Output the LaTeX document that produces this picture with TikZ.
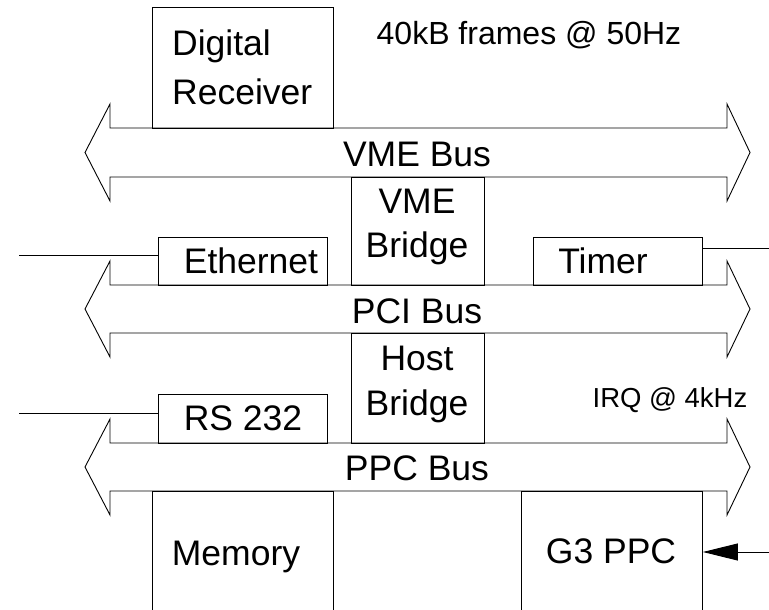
\documentclass[tikz,border=0pt]{standalone}
\usepackage{fontspec}
\setmainfont{Liberation Sans}
\usetikzlibrary{arrows.meta}
\tikzset{
  box/.style={draw, line width=0.9pt, inner sep=0pt, anchor=north west},
  lbl/.style={inner sep=0pt, anchor=base, font=\fontsize{35.5}{40}\selectfont},
  lblw/.style={lbl, anchor=base west},
  note/.style={inner sep=0pt, anchor=base},
  bus/.style={draw, line width=0.9pt, line join=miter},
  wire/.style={draw, line width=0.9pt}
}
\begin{document}
\begin{tikzpicture}[x=1pt, y=-1pt]
\useasboundingbox (0,0) rectangle (769,610);
\clip (0,0) rectangle (769,610);
% buses
\foreach \t/\b in {128/177, 285/333, 443/491}{
  \path[bus] (110,\t) -- (727,\t) -- (727,{\t-24}) -- (750,{(\t+\b)/2}) -- (727,{\b+24})
    -- (727,\b) -- (110,\b) -- (110,{\b+24}) -- (85,{(\t+\b)/2}) -- (110,{\t-24}) -- cycle;
}
\node[lbl] (vmebus) at (417,166) {VME Bus};
\node[lbl] (pcibus) at (417,323) {PCI Bus};
\node[lbl] (ppcbus) at (417,480) {PPC Bus};
% boxes
\node[box, minimum width=181pt, minimum height=121pt] (dr) at (152,7) {};
\node[box, minimum width=133pt, minimum height=108pt] (vmebr) at (351,177) {};
\node[box, minimum width=169pt, minimum height=48pt] (eth) at (158,237) {};
\node[box, minimum width=169pt, minimum height=48pt] (timer) at (533,237) {};
\node[box, minimum width=133pt, minimum height=110pt] (hostbr) at (351,333) {};
\node[box, minimum width=169pt, minimum height=49pt] (rs) at (158,394) {};
\node[box, minimum width=181pt, minimum height=130pt] (mem) at (152,491) {};
\node[box, minimum width=181pt, minimum height=130pt] (g3) at (521,491) {};
% box texts
\node[lblw] (drt1) at (172,56) {Digital};
\node[lblw] (drt2) at (172,104) {Receiver};
\node[lbl] (vbt1) at (417,213) {VME};
\node[lbl] (vbt2) at (417,257) {Bridge};
\node[lbl] (etht) at (251,273) {Ethernet};
\node[lbl] (timt) at (603,273) {Timer};
\node[lbl] (hbt1) at (417,370) {Host};
\node[lbl] (hbt2) at (417,415) {Bridge};
\node[lbl] (rst) at (243,430) {RS 232};
\node[lbl] (memt) at (236,565) {Memory};
\node[lbl] (g3t) at (611,563) {G3 PPC};
% notes
\node[note, font=\fontsize{32}{36}\selectfont] (frames) at (529,45) {40kB frames @ 50Hz};
\node[note, font=\fontsize{27.5}{32}\selectfont] (irq) at (670,407) {IRQ @ 4kHz};
% external wires
\coordinate (ethin) at (19,255);
\coordinate (timout) at (769,248);
\coordinate (rsin) at (19,413);
\coordinate (irqin) at (769,552);
\path[wire] (ethin) -- (ethin -| eth.west);
\path[wire] (timer.east |- timout) -- (timout);
\path[wire] (rsin) -- (rsin -| rs.west);
\path[wire, -{Triangle[length=35pt, width=17pt]}] (irqin) -- (irqin -| g3.east);
\end{tikzpicture}
\end{document}
